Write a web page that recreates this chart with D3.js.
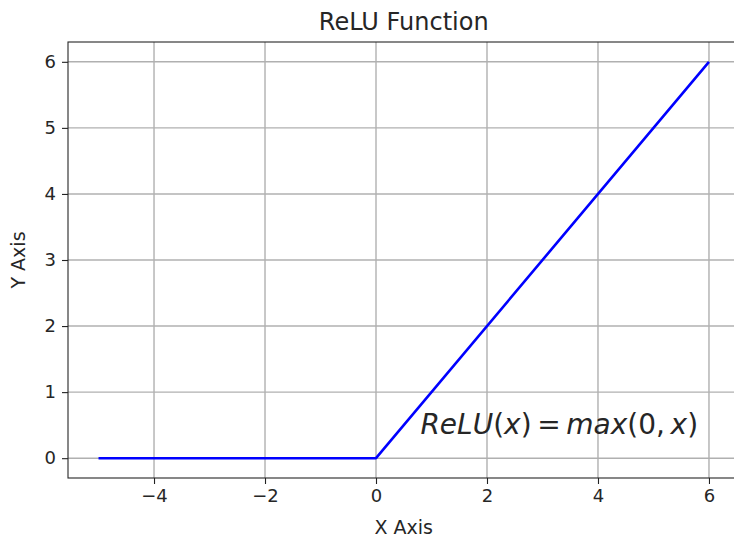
<!DOCTYPE html>
<html>
<head>
<meta charset="utf-8">
<script src="https://cdn.jsdelivr.net/npm/d3@7"></script>
<style>
  html, body { margin: 0; padding: 0; background: #fff; }
  svg { display: block; font-family: "DejaVu Sans", sans-serif; }
</style>
</head>
<body>
<svg id="chart" width="734" height="540"></svg>
<script>
// ---- data ----
const xValues = [-5, 0, 6];
const yValues = [0, 0, 6];
const xTicks = [-4, -2, 0, 2, 4, 6];
const yTicks = [0, 1, 2, 3, 4, 5, 6];
const xDomain = [-5.55, 6.55];
const yDomain = [-0.3, 6.3];
const titleText = "ReLU Function";
const xLabelText = "X Axis";
const yLabelText = "Y Axis";
const annotationPos = [0.8, 0.36];

// ---- layout ----
const svg = d3.select("#chart");
const mLeft = 68, mRight = 739.5, mTop = 42, mBottom = 478;
const x = d3.scaleLinear().domain(xDomain).range([mLeft, mRight]);
const y = d3.scaleLinear().domain(yDomain).range([mBottom, mTop]);

const gridColor = "#b0b0b0";

// grid
svg.append("g").selectAll("line").data(xTicks).join("line")
  .attr("x1", d => x(d)).attr("x2", d => x(d))
  .attr("y1", mTop).attr("y2", mBottom)
  .attr("stroke", gridColor).attr("stroke-width", 1.4);
svg.append("g").selectAll("line").data(yTicks).join("line")
  .attr("y1", d => y(d)).attr("y2", d => y(d))
  .attr("x1", mLeft).attr("x2", mRight)
  .attr("stroke", gridColor).attr("stroke-width", 1.4);

// clip
svg.append("clipPath").attr("id", "clip").append("rect")
  .attr("x", mLeft).attr("y", mTop).attr("width", mRight - mLeft).attr("height", mBottom - mTop);

// line
const pts = xValues.map((v, i) => [v, yValues[i]]);
svg.append("path")
  .attr("clip-path", "url(#clip)")
  .attr("d", d3.line().x(d => x(d[0])).y(d => y(d[1]))(pts))
  .attr("fill", "none").attr("stroke", "#0000ff").attr("stroke-width", 2.6)
  .attr("stroke-linejoin", "round").attr("stroke-linecap", "butt");

// axes
const fmt = d => (d < 0 ? "\u2212" + Math.abs(d) : String(d));
const xAxis = svg.append("g").attr("transform", `translate(0,${mBottom})`)
  .call(d3.axisBottom(x).tickValues(xTicks).tickFormat(fmt).tickSize(6).tickPadding(5).tickSizeOuter(0));
const yAxis = svg.append("g").attr("transform", `translate(${mLeft},0)`)
  .call(d3.axisLeft(y).tickValues(yTicks).tickFormat(fmt).tickSize(6).tickPadding(6).tickSizeOuter(0));
[xAxis, yAxis].forEach(g => {
  g.select(".domain").remove();
  g.selectAll(".tick line").attr("stroke", "#222").attr("stroke-width", 1.1);
  g.selectAll(".tick text").attr("fill", "#262626")
    .style("font-family", "'DejaVu Sans', sans-serif").style("font-size", "18px");
});

// spines (right spine lies outside the visible width)
svg.append("rect")
  .attr("x", mLeft).attr("y", mTop).attr("width", mRight - mLeft).attr("height", mBottom - mTop)
  .attr("fill", "none").attr("stroke", "#262626").attr("stroke-width", 1.1);

// title
svg.append("text").attr("x", (mLeft + mRight) / 2).attr("y", 30)
  .attr("text-anchor", "middle").attr("fill", "#262626")
  .style("font-size", "24px").text(titleText);

// axis labels
svg.append("text").attr("x", (mLeft + mRight) / 2).attr("y", 534)
  .attr("text-anchor", "middle").attr("fill", "#262626")
  .style("font-size", "19px").text(xLabelText);
svg.append("text").attr("transform", `translate(25,${(mTop + mBottom) / 2}) rotate(-90)`)
  .attr("text-anchor", "middle").attr("fill", "#262626")
  .style("font-size", "19px").text(yLabelText);

// annotation (mathtext-like)
const parts = [
  ["ReLU", true], ["(", false], ["x", true], [")", false],
  ["\u2009=\u2009", false], ["max", true], ["(", false], ["0", false], [",\u2009", false], ["x", true], [")", false]
];
const ann = svg.append("text")
  .attr("x", x(annotationPos[0])).attr("y", y(annotationPos[1]))
  .attr("fill", "#262626").style("font-size", "28px").attr("xml:space", "preserve");
parts.forEach(([t, it]) => {
  ann.append("tspan").style("font-style", it ? "italic" : "normal").text(t);
});
</script>
</body>
</html>
